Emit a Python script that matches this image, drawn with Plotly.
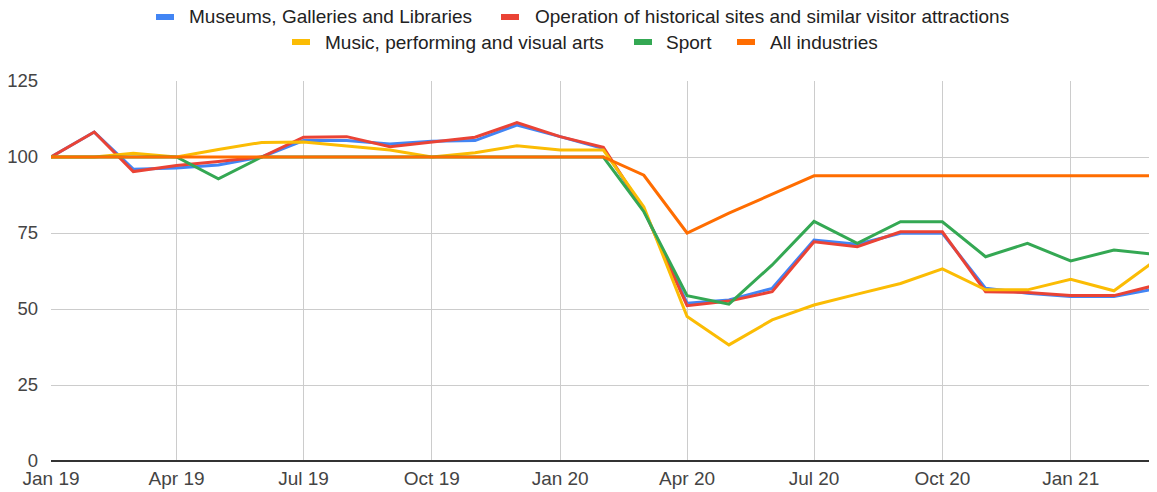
import plotly.graph_objects as go

months = ["2019-01-01", "2019-02-01", "2019-03-01", "2019-04-01", "2019-05-01", "2019-06-01",
          "2019-07-01", "2019-08-01", "2019-09-01", "2019-10-01", "2019-11-01", "2019-12-01",
          "2020-01-01", "2020-02-01", "2020-03-01", "2020-04-01", "2020-05-01", "2020-06-01",
          "2020-07-01", "2020-08-01", "2020-09-01", "2020-10-01", "2020-11-01", "2020-12-01",
          "2021-01-01", "2021-02-01", "2021-03-01"]

museums = [100, 108.2, 96, 96.4, 97.4, 100, 105.4, 105.4, 104.3, 105.2, 105.4, 110.5, 106.7, 102.8,
           82.5, 51.9, 53, 56.8, 72.7, 71.3, 74.9, 74.9, 56.8, 55.2, 54.1, 54.1, 56.5]
historical = [100, 108.2, 95.2, 97.2, 98.5, 100, 106.5, 106.7, 103.4, 105, 106.5, 111.3, 106.7, 103.2,
              82.6, 51.1, 52.6, 55.7, 72.1, 70.5, 75.4, 75.4, 55.7, 55.4, 54.4, 54.4, 57.6]
music = [100, 100, 101.2, 100, 102.5, 104.8, 104.9, 103.6, 102.3, 100, 101.4, 103.7, 102.3, 102.3,
         83.6, 47.5, 38.2, 46.4, 51.3, 54.9, 58.4, 63.2, 56.3, 56.3, 59.8, 56, 65.4]
sport = [100, 100, 100, 100, 92.8, 100, 100, 100, 100, 100, 100, 100, 100, 100,
         82, 54.4, 51.6, 64.5, 78.8, 71.6, 78.7, 78.7, 67.2, 71.6, 65.8, 69.4, 68]
all_industries = [100, 100, 100, 100, 100, 100, 100, 100, 100, 100, 100, 100, 100, 100,
                  94, 75, 81.5, 87.8, 93.8, 93.8, 93.8, 93.8, 93.8, 93.8, 93.8, 93.8, 93.8]

series_names = ["Museums, Galleries and Libraries",
                "Operation of historical sites and similar visitor attractions",
                "Music, performing and visual arts", "Sport", "All industries"]
series_values = [museums, historical, music, sport, all_industries]
colors = ["#4285F4", "#EA4335", "#FBBC04", "#34A853", "#FF6D01"]

tick_vals = ["2019-01-01", "2019-04-01", "2019-07-01", "2019-10-01", "2020-01-01",
             "2020-04-01", "2020-07-01", "2020-10-01", "2021-01-01"]
tick_text = ["Jan 19", "Apr 19", "Jul 19", "Oct 19", "Jan 20", "Apr 20", "Jul 20", "Oct 20", "Jan 21"]
y_ticks = [0, 25, 50, 75, 100, 125]

# page has an 8px body margin; figure is sized so the plot area lands where the reference has it
PAGE_OFF = 8
PLOT_LEFT, PLOT_RIGHT, PLOT_TOP, PLOT_BOTTOM = 51, 1153, 81, 461
W, H = 1157 - PAGE_OFF, 492 - PAGE_OFF
L = PLOT_LEFT - PAGE_OFF
T = PLOT_TOP - PAGE_OFF
R = W - (PLOT_RIGHT - PAGE_OFF)
B = H - (PLOT_BOTTOM - PAGE_OFF)
PW = PLOT_RIGHT - PLOT_LEFT
PH = PLOT_BOTTOM - PLOT_TOP

def px_x(px):
    return (px - PLOT_LEFT) / PW

def px_y(py):
    return (PLOT_BOTTOM - py) / PH

fig = go.Figure()
for name, vals, col in zip(series_names, series_values, colors):
    fig.add_trace(go.Scatter(x=months, y=vals, mode="lines", name=name,
                             line=dict(color=col, width=3), showlegend=False))

FONT = "Liberation Sans, Arial, sans-serif"

# custom legend: (rect_left_px, text_left_px, center_y_px) in page pixels
legend_pos = [(156, 187, 17), (501, 533, 17), (292, 323, 42), (634, 664, 42), (737, 768, 42)]
shapes = []
annotations = []
for (rl, tl, cy), name, col in zip(legend_pos, series_names, colors):
    shapes.append(dict(type="rect", xref="paper", yref="paper",
                       x0=px_x(rl), x1=px_x(rl + 18), y0=px_y(cy + 3), y1=px_y(cy - 3),
                       fillcolor=col, line=dict(width=0)))
    annotations.append(dict(text=name, xref="paper", yref="paper", x=px_x(tl), y=px_y(cy),
                            xanchor="left", yanchor="middle", showarrow=False,
                            font=dict(family=FONT, size=19, color="#222222")))

fig.update_layout(
    width=W, height=H,
    margin=dict(l=L, r=R, t=T, b=B, pad=0, autoexpand=False),
    paper_bgcolor="white", plot_bgcolor="white",
    font=dict(family=FONT, size=19, color="#444444"),
    shapes=shapes, annotations=annotations,
    xaxis=dict(type="date", range=["2019-01-01", "2021-03-01"], tickvals=tick_vals, ticktext=tick_text,
               showgrid=True, gridcolor="#cccccc", gridwidth=1, zeroline=False, automargin=False,
               showline=False, ticks="", ticklabelstandoff=4,
               tickfont=dict(size=19, color="#444444")),
    yaxis=dict(range=[0, 125], tickvals=y_ticks, showgrid=True, gridcolor="#cccccc", gridwidth=1,
               zeroline=True, zerolinecolor="#333333", zerolinewidth=2, ticks="", automargin=False,
               ticklabelstandoff=12,
               tickfont=dict(size=18.5, color="#444444")),
)

fig.write_html("out.html")
